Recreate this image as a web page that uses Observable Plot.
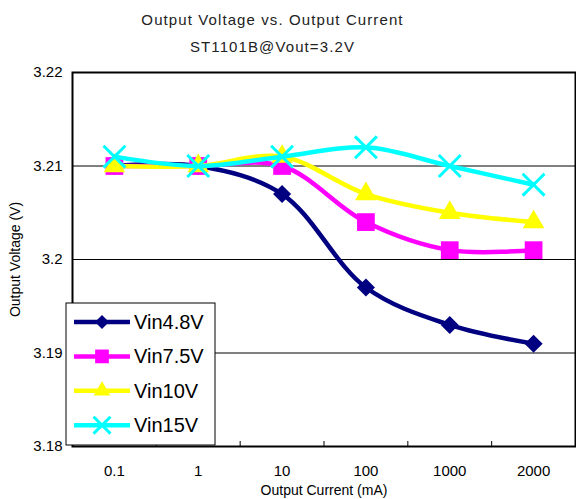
<!DOCTYPE html>
<html><head><meta charset="utf-8">
<script src="https://cdn.jsdelivr.net/npm/d3@7"></script>
<script src="https://cdn.jsdelivr.net/npm/@observablehq/plot@0.6"></script>
<style>
body{margin:0;background:#fff;width:576px;height:499px;overflow:hidden;position:relative;font-family:"Liberation Sans",Arial,sans-serif}
.ttl{position:absolute;left:0;width:545px;text-align:center;font-size:15px;letter-spacing:1.1px;color:#222;line-height:1}
#title{top:12px}
#sub{top:39px}
#chart{position:absolute;top:58px;left:0}
</style></head>
<body>
<div id="title" class="ttl">Output Voltage vs. Output Current</div>
<div id="sub" class="ttl">ST1101B@Vout=3.2V</div>
<div id="chart"></div>
<script>
const currents = ["0.1","1","10","100","1000","2000"];
const vin48 = [3.210,3.210,3.207,3.197,3.193,3.191];
const vin75 = [3.210,3.210,3.210,3.204,3.201,3.201];
const vin10 = [3.210,3.210,3.211,3.207,3.205,3.204];
const vin15 = [3.211,3.210,3.211,3.212,3.210,3.208];
const seriesNames = ["Vin4.8V","Vin7.5V","Vin10V","Vin15V"];
const yTicks = [3.18,3.19,3.2,3.21,3.22];
const gridValues = [3.19,3.2,3.21];

const seriesColors = ["#000080","#FF00FF","#FFFF00","#00FFFF"];
const seriesSym = [
  {symbol:"square", rotate:45, r:7.2},
  {symbol:"square", rotate:0, r:10},
  {symbol:"triangle", rotate:0, r:8},
  {symbol:"times", rotate:0, r:10}
];
const seriesValues = [vin48, vin75, vin10, vin15];
const rows = seriesNames.map((name, s) => seriesValues[s].map((v, i) => ({series: name, i, current: currents[i], v})));

const marks = [
  Plot.ruleY(gridValues, {stroke: "#000", strokeWidth: 1}),
  Plot.axisY({ticks: yTicks, tickFormat: d => String(+d.toFixed(2)), tickSize: 0, tickPadding: 10,
    label: "Output Voltage (V)", labelAnchor: "center", labelOffset: 62, labelArrow: "none"}),
  Plot.axisX({ticks: d3.range(currents.length), tickFormat: i => currents[i], tickSize: 0, tickPadding: 19,
    label: "Output Current (mA)", labelAnchor: "center", labelOffset: 48, labelArrow: "none"}),
  Plot.axisX({ticks: d3.range(0.5, currents.length - 1, 1), tickSize: -5, tickFormat: () => "", label: null, stroke: "#000"}),
  Plot.frame({stroke: "#000", strokeWidth: 2})
];
rows.forEach((data, s) => {
  const sym = seriesSym[s];
  marks.push(Plot.line(data, {x: "i", y: "v", stroke: seriesColors[s], strokeWidth: 4.5, curve: "catmull-rom"}));
  if (sym.symbol === "times") {
    marks.push(Plot.dot(data, {x: "i", y: "v", symbol: "times", r: sym.r, stroke: seriesColors[s], strokeWidth: 3}));
  } else {
    marks.push(Plot.dot(data, {x: "i", y: "v", symbol: sym.symbol, r: sym.r, rotate: sym.rotate, fill: seriesColors[s], stroke: "none"}));
  }
});

const chart = Plot.plot({
  width: 576, height: 441,
  marginLeft: 72, marginRight: 1, marginTop: 14, marginBottom: 53,
  style: {fontFamily: '"Liberation Sans", Arial, sans-serif', fontSize: "15px", color: "#000", background: "#fff"},
  x: {type: "linear", domain: [-0.5, currents.length - 0.5]},
  y: {type: "linear", domain: [yTicks[0], yTicks[yTicks.length - 1]]},
  marks
});
document.getElementById("chart").appendChild(chart);

const svg = d3.select(chart);
svg.selectAll('[aria-label="x-axis label"] text, [aria-label="y-axis label"] text').style("font-size", "14px");

// legend
const lg = svg.append("g").attr("transform", "translate(66,245)");
lg.append("rect").attr("width", 149).attr("height", 142).attr("fill", "#fff").attr("stroke", "#000").attr("stroke-width", 1);
seriesNames.forEach((name, s) => {
  const yy = 19 + s * 34.4;
  const g = lg.append("g").attr("transform", `translate(0,${yy})`);
  g.append("line").attr("x1", 8).attr("x2", 64).attr("stroke", seriesColors[s]).attr("stroke-width", 4.5);
  const sym = seriesSym[s];
  const typ = {square: d3.symbolSquare, triangle: d3.symbolTriangle, times: d3.symbolTimes}[sym.symbol];
  const p = g.append("path").attr("d", d3.symbol(typ, Math.PI * sym.r * sym.r * 0.6)())
    .attr("transform", `translate(36,0) rotate(${sym.rotate})`);
  if (sym.symbol === "times") p.attr("fill", "none").attr("stroke", seriesColors[s]).attr("stroke-width", 3);
  else p.attr("fill", seriesColors[s]);
  g.append("text").attr("x", 68).attr("y", 0).attr("dy", "0.35em").attr("text-anchor", "start")
    .attr("font-size", "20px").attr("fill", "#000").text(name);
});
</script>
</body></html>
